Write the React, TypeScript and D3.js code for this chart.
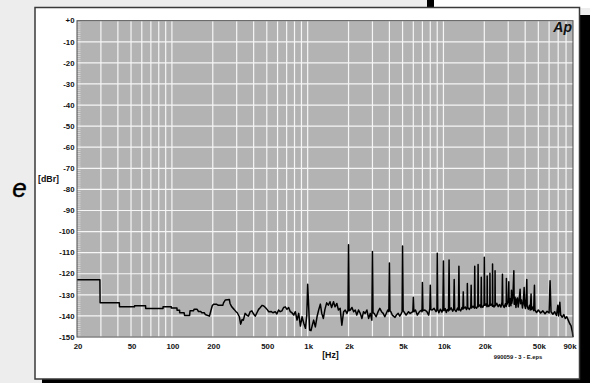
import React from "react";
import * as d3 from "d3";

// FFT spectrum, [Hz, dBr]
const spectrum: [number, number][] = [
  [20, -122.9], [29.5, -122.9], [29.6, -133.8], [41, -133.8], [41.1, -135.7], [53, -135.7],
  [53.1, -135.2], [64, -135.2], [64.1, -136.5], [86, -136.5], [86.1, -135.7], [99, -135.7],
  [99.1, -136.3], [109, -136.3], [109.1, -137.3], [114, -137.3], [114.1, -138.5], [123, -138.5],
  [124, -139.8], [135, -139.8], [136, -137.6], [144, -137.6], [146, -136.8], [153, -136.8],
  [157, -137.9], [163, -137.9], [166, -138.5], [173, -138.5], [176, -139.3], [189, -140.1],
  [193, -137.9], [198, -135.3], [202, -134.5], [214, -134.5], [220, -135.0], [237, -135.0],
  [240, -133.8], [247, -132.5], [265, -132.2], [268, -134.1], [276, -135.7], [287, -136.9],
  [297, -138.0], [303, -138.5], [314, -140.4], [321, -143.9], [329, -141.7], [336, -142.0],
  [346, -138.8], [356, -139.6], [366, -140.1], [377, -138.0], [388, -137.6], [400, -139.1],
  [411, -140.1], [423, -138.5], [435, -136.9], [448, -136.0], [461, -135.0], [475, -135.3],
  [488, -136.0], [502, -136.9], [517, -138.0], [537, -137.9], [554, -138.5], [577, -138.0],
  [593, -139.1], [610, -137.2], [628, -138.0], [646, -137.6], [665, -136.0], [684, -135.7],
  [704, -136.9], [724, -136.0], [745, -138.0], [766, -138.5], [789, -139.6], [811, -138.0],
  [835, -142.0], [859, -138.8], [884, -144.8], [909, -140.4], [936, -143.5], [963, -145.9],
  [985, -139.6], [1000, -125.0], [1015, -134.1], [1034, -146.7], [1058, -147.0], [1082, -144.4],
  [1107, -142.0], [1139, -145.2], [1172, -140.4], [1205, -137.2], [1240, -134.4], [1270, -138.8],
  [1305, -141.2], [1340, -136.9], [1380, -133.8], [1420, -134.9], [1460, -133.3], [1500, -136.0],
  [1550, -133.3], [1590, -135.7], [1640, -134.1], [1685, -137.2], [1735, -136.4], [1785, -144.4],
  [1840, -138.0], [1890, -137.2], [1945, -138.8], [1980, -137.5], [2000, -106.2], [2020, -137.5],
  [2060, -137.2], [2120, -136.0], [2180, -138.0], [2240, -137.2], [2300, -139.6], [2370, -137.2],
  [2440, -138.8], [2510, -141.2], [2580, -138.0], [2650, -138.8], [2730, -137.2], [2810, -141.2],
  [2890, -138.8], [2970, -142.0], [3000, -109.4], [3030, -138.5], [3090, -138.8], [3190, -140.4],
  [3300, -138.0], [3400, -136.4], [3500, -138.0], [3600, -138.8], [3700, -140.4], [3890, -137.2],
  [3960, -138.0], [4000, -114.9], [4040, -137.5], [4100, -138.0], [4200, -139.6], [4400, -140.7],
  [4500, -139.6], [4640, -138.8], [4770, -140.1], [4900, -138.8], [4960, -138.0], [5000, -106.9],
  [5050, -137.5], [5140, -138.2], [5310, -139.6], [5530, -138.0], [5690, -138.8], [5950, -138.0],
  [6000, -131.2], [6060, -138.0], [6220, -137.2], [6420, -139.6], [6660, -138.0], [6900, -137.2],
  [6950, -138.0], [7000, -124.2], [7070, -137.5], [7300, -137.2], [7550, -138.0], [7780, -139.6],
  [7940, -136.4], [8000, -125.4], [8080, -137.0], [8250, -137.2], [8530, -136.4], [8820, -138.0],
  [8950, -137.0], [9000, -110.3], [9080, -137.0], [9250, -138.5], [9500, -136.8], [9750, -138.2],
  [9900, -137.0], [10000, -113.9], [10100, -137.5], [10300, -136.5], [10500, -138.4], [10700, -137.0],
  [10900, -137.6], [11000, -113.5], [11100, -137.2], [11400, -136.2], [11700, -137.8], [11900, -136.8],
  [12000, -122.7], [12100, -137.0], [12400, -137.9], [12700, -136.3], [12900, -137.2], [13000, -116.4],
  [13100, -136.8], [13400, -137.6], [13700, -136.0], [13900, -136.8], [14000, -128.6], [14100, -136.5],
  [14500, -135.8], [14800, -137.0], [14950, -136.2], [15000, -124.6], [15100, -136.0], [15500, -136.9],
  [15900, -135.8], [16000, -125.4], [16100, -136.2], [16500, -135.4], [16900, -136.3], [17000, -116.4],
  [17100, -135.8], [17500, -136.4], [17900, -135.2], [18000, -115.6], [18100, -135.6], [18500, -134.8],
  [18900, -136.0], [19000, -121.7], [19100, -135.2], [19500, -135.9], [19900, -134.6], [20000, -112.2],
  [20150, -135.0], [20600, -134.4], [20950, -135.6], [21000, -121.1], [21100, -134.8], [21600, -135.5],
  [21950, -134.2], [22000, -119.8], [22100, -135.0], [22600, -134.5], [22950, -135.4], [23000, -115.4],
  [23100, -134.6], [23600, -135.8], [23950, -134.8], [24000, -118.6], [24100, -135.2], [24700, -134.0],
  [25300, -135.6], [25900, -134.6], [26500, -135.8], [27000, -133.5], [27200, -120.3], [27400, -134.8],
  [28000, -136.0], [28600, -134.2], [29000, -135.5], [29100, -122.2], [29250, -134.8], [30000, -133.0],
  [30300, -123.8], [30500, -135.5], [31000, -131.8], [31400, -135.2], [31700, -127.8], [31900, -134.0],
  [32500, -130.5], [33000, -118.6], [33200, -134.5], [33700, -131.2], [34200, -136.0], [34700, -132.0],
  [35100, -131.5], [35500, -135.8], [36000, -133.0], [36700, -127.4], [37000, -134.2], [37600, -132.5],
  [38200, -136.2], [38800, -133.0], [39300, -126.5], [39600, -134.8], [40200, -136.5], [40700, -131.0],
  [41100, -122.7], [41400, -135.5], [42200, -136.8], [43000, -135.0], [43600, -137.2], [44200, -129.6],
  [44500, -137.0], [45400, -135.8], [46200, -137.5], [46800, -125.5], [47200, -137.2], [48500, -138.4],
  [50000, -137.2], [52000, -138.6], [54000, -137.6], [56000, -139.0], [58000, -137.8], [60000, -138.6],
  [61000, -123.3], [62000, -138.0], [64000, -139.2], [66000, -138.0], [68000, -139.8], [69600, -134.9],
  [70500, -140.0], [72000, -133.5], [73000, -139.6], [75000, -140.6], [77000, -139.4], [79000, -141.2],
  [81000, -140.4], [83000, -142.0], [85000, -143.6], [87000, -144.6], [89000, -147.5], [90000, -150],
];

const yTickValues = [0, -10, -20, -30, -40, -50, -60, -70, -80, -90, -100, -110, -120, -130, -140, -150];
const yTickLabels = ["+0", "-10", "-20", "-30", "-40", "-50", "-60", "-70", "-80", "-90", "-100", "-110", "-120", "-130", "-140", "-150"];
const xTickValues = [20, 50, 100, 200, 500, 1000, 2000, 5000, 10000, 20000, 50000, 90000];
const xTickLabels = ["20", "50", "100", "200", "500", "1k", "2k", "5k", "10k", "20k", "50k", "90k"];

const FONT = "'Liberation Sans', Arial, sans-serif";

export default function App() {
  const x = d3.scaleLog().domain([20, 90000]).range([77, 573]);
  const y = d3.scaleLinear().domain([-150, 0]).range([337, 20.7]);
  const gridX = x.ticks().filter((f) => f > 20 && f < 90000);
  const minorY = d3.range(-150, 0, 1);

  const line = d3
    .line<[number, number]>()
    .x((d) => x(d[0]))
    .y((d) => y(d[1]));

  const [x0, x1] = x.range();
  const [yb, yt] = y.range();

  return (
    <svg
      width={590}
      height={383}
      style={{ position: "absolute", left: 0, top: 0 }}
      fontFamily={FONT}
    >
      <rect width={590} height={383} fill="#ededed" />
      {/* bits of the neighbouring page */}
      <rect x={434} y={0} width={156} height={8} fill="#fff" />
      <rect x={427} y={0} width={7} height={8} fill="#000" />

      {/* card + shadow */}
      <rect x={42} y={15} width={548} height={368} fill="#000" />
      <rect x={35} y={7.5} width={544.5} height={371.5} fill="#fff" stroke="#3a3a3a" strokeWidth={1.5} />

      {/* plot area */}
      <rect x={x0} y={yt} width={x1 - x0} height={yb - yt} fill="#b3b3b3" />
      {minorY.map((v) => (
        <line key={"m" + v} x1={x0} x2={x0 + 3.5} y1={y(v)} y2={y(v)} stroke="#e2e2e2" strokeWidth={0.8} />
      ))}
      {gridX.map((f) => (
        <line key={"gx" + f} x1={x(f)} x2={x(f)} y1={yt} y2={yb} stroke="#f6f6f6" strokeWidth={1.2} />
      ))}
      {yTickValues.map((v) => (
        <line key={"gy" + v} x1={x0} x2={x1} y1={y(v)} y2={y(v)} stroke="#f6f6f6" strokeWidth={1.2} />
      ))}
      <path d={line(spectrum) ?? ""} fill="none" stroke="#000" strokeWidth={1.5} strokeLinejoin="round" />
      <rect x={x0} y={yt} width={x1 - x0} height={yb - yt} fill="none" stroke="#4a4a4a" strokeWidth={1} />

      {/* y axis labels */}
      {yTickValues.map((v, i) => (
        <text key={"yl" + v} x={74.5} y={y(v)} dy="0.35em" textAnchor="end" fontSize={7.8} fontWeight="bold" fill="#111">
          {yTickLabels[i]}
        </text>
      ))}
      <text x={48.5} y={178.5} dy="0.35em" textAnchor="middle" fontSize={8.8} fontWeight="bold" fill="#111">
        [dBr]
      </text>
      <text x={19.5} y={197} textAnchor="middle" fontSize={26} fontStyle="italic" fill="#000" stroke="#000" strokeWidth={0.4}>
        e
      </text>

      {/* x axis labels */}
      {xTickValues.map((f, i) => (
        <text
          key={"xl" + f}
          x={x(f)}
          dx={i === xTickValues.length - 1 ? -3 : 1}
          y={345.8}
          dy="0.35em"
          textAnchor="middle"
          fontSize={7.8}
          fontWeight="bold"
          fill="#111"
        >
          {xTickLabels[i]}
        </text>
      ))}
      <text x={330.5} y={354.5} dy="0.35em" textAnchor="middle" fontSize={8.8} fontWeight="bold" fill="#111">
        [Hz]
      </text>
      <text x={518} y={359.3} textAnchor="middle" fontSize={5.8} fontWeight="bold" fill="#111">
        990059 - 3 - E.eps
      </text>

      <text x={572} y={32} textAnchor="end" fontSize={14} fontWeight="bold" fontStyle="italic" fill="#111">
        Ap
      </text>
    </svg>
  );
}
